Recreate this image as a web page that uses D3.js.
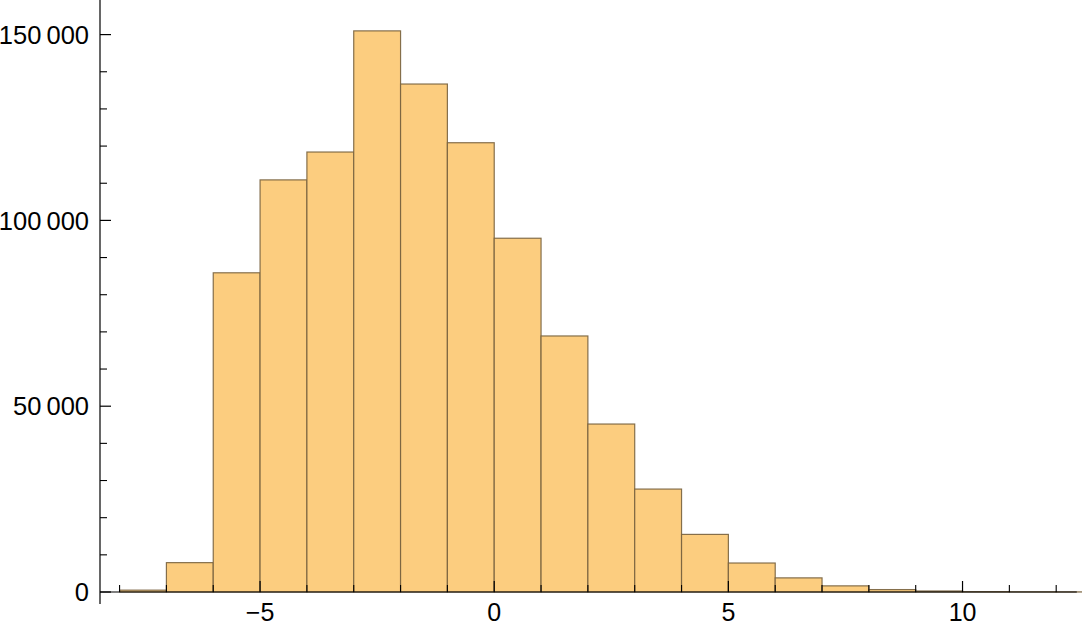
<!DOCTYPE html>
<html>
<head>
<meta charset="utf-8">
<script src="https://cdn.jsdelivr.net/npm/d3@7"></script>
<style>
  html, body { margin: 0; padding: 0; background: #fff; }
  svg { display: block; }
  text { font-family: "Liberation Sans", Arial, sans-serif; fill: #000; }
</style>
</head>
<body>
<svg id="chart" width="1082" height="626"></svg>
<script>
// ---- data ----
const binStarts = [-8, -7, -6, -5, -4, -3, -2, -1, 0, 1, 2, 3, 4, 5, 6, 7, 8, 9, 10, 11, 12];
const binWidth = 1;
const counts = [500, 7900, 85900, 110900, 118400, 151000, 136700, 120900, 95200, 68900, 45200, 27700, 15500, 7800, 3800, 1650, 650, 270, 100, 50, 30];
const xMajorTicks = [-5, 0, 5, 10];
const xMinorTicks = [-8, -7, -6, -4, -3, -2, -1, 1, 2, 3, 4, 6, 7, 8, 9, 11, 12];
const yMajorTicks = [0, 50000, 100000, 150000];
const yMajorLabels = ["0", "50\u2009000", "100\u2009000", "150\u2009000"];
const yMinorTicks = [10000, 20000, 30000, 40000, 60000, 70000, 80000, 90000, 110000, 120000, 130000, 140000];

// ---- layout ----
const axisX = 100, axisY = 592;
const x = d3.scaleLinear().domain([-8.418, 12.44]).range([100, 1076.8]);
const y = d3.scaleLinear().domain([0, 150000]).range([axisY, 34.6]);

const svg = d3.select("#chart");

// bars
svg.append("g").selectAll("rect").data(binStarts).join("rect")
  .attr("x", (d) => x(d))
  .attr("width", (d) => x(d + binWidth) - x(d))
  .attr("y", (d, i) => y(counts[i]))
  .attr("height", (d, i) => y(0) - y(counts[i]))
  .attr("fill", "rgb(252,205,127)")
  .attr("stroke", "rgb(120,98,62)")
  .attr("stroke-opacity", 0.9)
  .attr("stroke-width", 1.2);

const axisColor = "#000";

svg.append("line").attr("x1", axisX).attr("x2", 1076.8)
  .attr("y1", axisY).attr("y2", axisY)
  .attr("stroke", axisColor).attr("stroke-width", 1.2);
svg.append("line").attr("x1", axisX).attr("x2", axisX)
  .attr("y1", 0).attr("y2", 604)
  .attr("stroke", axisColor).attr("stroke-width", 1.2);

// x ticks
svg.append("g").selectAll("line").data(xMajorTicks).join("line")
  .attr("x1", (d) => x(d)).attr("x2", (d) => x(d))
  .attr("y1", axisY).attr("y2", axisY - 11)
  .attr("stroke", axisColor).attr("stroke-width", 1.2);
svg.append("g").selectAll("line").data(xMinorTicks).join("line")
  .attr("x1", (d) => x(d)).attr("x2", (d) => x(d))
  .attr("y1", axisY).attr("y2", axisY - 7)
  .attr("stroke", axisColor).attr("stroke-width", 1.1);
const fmtX = d3.format("d");
svg.append("g").selectAll("text").data(xMajorTicks).join("text")
  .attr("x", (d) => x(d)).attr("y", 621)
  .attr("text-anchor", "middle")
  .style("font-size", "25px")
  .text((d) => fmtX(d));

// y ticks
svg.append("g").selectAll("line").data(yMajorTicks).join("line")
  .attr("x1", axisX).attr("x2", axisX + 11)
  .attr("y1", (d) => y(d)).attr("y2", (d) => y(d))
  .attr("stroke", axisColor).attr("stroke-width", 1.2);
svg.append("g").selectAll("line").data(yMinorTicks).join("line")
  .attr("x1", axisX).attr("x2", axisX + 7)
  .attr("y1", (d) => y(d)).attr("y2", (d) => y(d))
  .attr("stroke", axisColor).attr("stroke-width", 1.1);
svg.append("g").selectAll("text").data(yMajorTicks).join("text")
  .attr("x", 89).attr("y", (d) => y(d))
  .attr("dy", "0.36em")
  .attr("text-anchor", "end")
  .style("font-size", "25.5px")
  .text((d, i) => yMajorLabels[i]);
</script>
</body>
</html>
